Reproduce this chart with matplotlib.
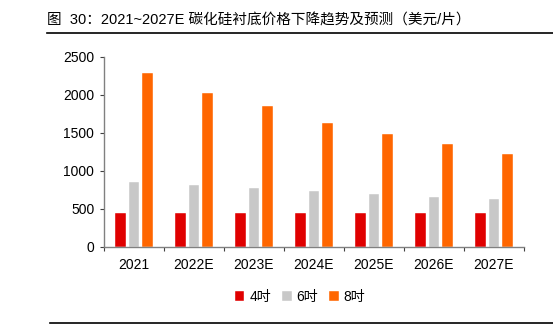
import numpy as np
import matplotlib
matplotlib.use('Agg')
import matplotlib.pyplot as plt
from matplotlib.lines import Line2D

plt.rcParams['font.family'] = ['Liberation Sans', 'Noto Sans CJK SC', 'DejaVu Sans']

years = ['2021', '2022E', '2023E', '2024E', '2025E', '2026E', '2027E']
wafer_4in = [435, 435, 435, 435, 435, 435, 435]
wafer_6in = [850, 810, 765, 730, 690, 655, 625]
wafer_8in = [2280, 2020, 1850, 1630, 1480, 1350, 1220]
series_names = ['4吋', '6吋', '8吋']
colors = ['#E00000', '#C8C8C8', '#FF6600']

fig = plt.figure(figsize=(5.53, 3.36), dpi=100)
ax = fig.add_axes([104 / 553, 1 - 246.5 / 336, 420 / 553, 190 / 336])

x = np.arange(len(years))
step = 0.222
width = 0.178
for i, (vals, name, c) in enumerate(zip([wafer_4in, wafer_6in, wafer_8in], series_names, colors)):
    ax.bar(x + (i - 1) * step, vals, width=width, color=c, label=name,
           edgecolor='white', linewidth=0.3)

ax.set_xlim(-0.5, len(years) - 0.5)
ax.set_ylim(0, 2500)
ax.set_yticks(np.arange(0, 2501, 500))
ax.set_xticks(x)
ax.set_xticklabels(years)
ax.set_xticks(np.arange(-0.5, len(years), 1.0), minor=True)

for s in ['top', 'right']:
    ax.spines[s].set_visible(False)
for s in ['left', 'bottom']:
    ax.spines[s].set_color('#808080')
    ax.spines[s].set_linewidth(1.0)

ax.tick_params(axis='x', which='major', length=0, labelsize=10, pad=8, colors='black')
ax.tick_params(axis='x', which='minor', length=3, direction='out', color='#404040', width=0.8)
ax.tick_params(axis='y', length=3, direction='out', labelsize=10, color='#404040', width=0.8, pad=4)

ax.legend(loc='center', bbox_to_anchor=(300 / 553, 1 - 297 / 336), bbox_transform=fig.transFigure,
          ncol=3, frameon=False, fontsize=10, handlelength=0.7, handleheight=0.7,
          handletextpad=0.35, columnspacing=0.8)

fig.text(47 / 553, 1 - 20 / 336, '图  30：2021~2027E 碳化硅衬底价格下降趋势及预测（美元/片）',
         fontsize=10.5, ha='left', va='center',
         family=['Liberation Sans', 'Noto Sans CJK SC', 'DejaVu Sans'])
fig.add_artist(Line2D([47 / 553, 1], [1 - 33 / 336] * 2, transform=fig.transFigure,
                      color='black', linewidth=1.2))
fig.add_artist(Line2D([50 / 553, 1], [1 - 323 / 336] * 2, transform=fig.transFigure,
                      color='black', linewidth=1.2))

fig.savefig('out.png', dpi=100)
